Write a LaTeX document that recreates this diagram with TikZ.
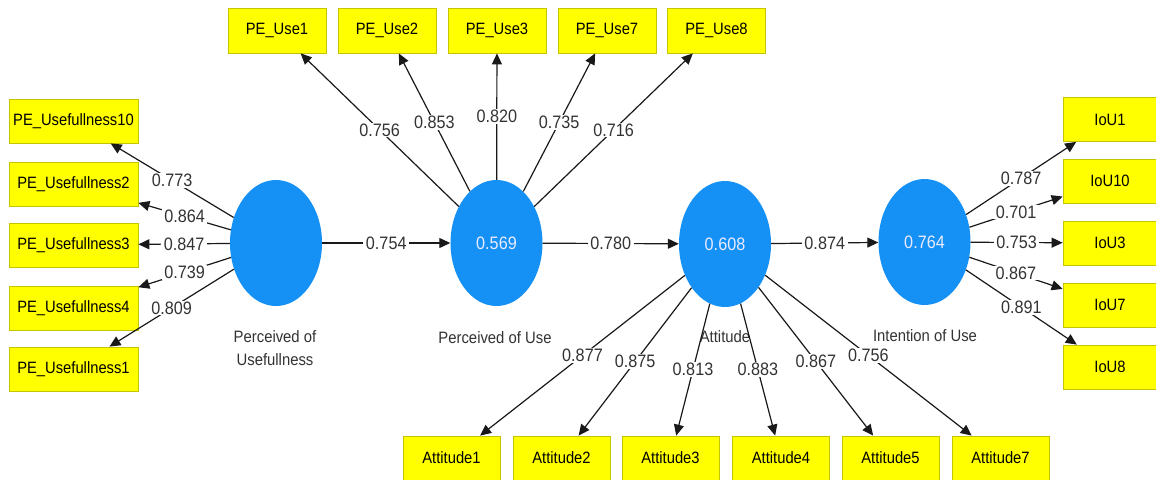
\documentclass[tikz,border=0pt]{standalone}
\usepackage{fontspec}
\setmainfont[FakeStretch=0.9]{Liberation Sans}
\usetikzlibrary{shapes.geometric,arrows.meta}
\definecolor{lvblue}{HTML}{1591F5}
\definecolor{mvyellow}{HTML}{FFFF00}
\definecolor{mvborder}{HTML}{C4C400}
\definecolor{txtgray}{HTML}{333333}
\begin{document}
\begin{tikzpicture}[x=1pt,y=-1pt,
 latent/.style={ellipse, fill=lvblue, draw=none, minimum width=92pt, minimum height=126pt, inner sep=0pt, text=white!92!blue, font=\fontsize{18}{20}\selectfont},
 ind/.style={rectangle, fill=mvyellow, draw=mvborder, line width=0.8pt, inner sep=0pt, minimum height=44pt, font=\fontsize{16.4}{18}\selectfont},
 indl/.style={ind, minimum width=129pt},
 indt/.style={ind, minimum width=98pt, minimum height=45pt},
 indb/.style={ind, minimum width=97pt, minimum height=44pt},
 indr/.style={ind, minimum width=94pt},
 load/.style={-{Triangle[length=11pt,width=10pt]}, line width=1.2pt, draw=black!90},
 coef/.style={fill=white, inner xsep=2.5pt, inner ysep=1pt, text=txtgray, font=\fontsize{18}{20}\selectfont},
 lvname/.style={text=txtgray, font=\fontsize{16.5}{23}\selectfont, align=center}
]
\useasboundingbox[fill=white] (0,0) rectangle (1156,479);

% latent variables
\node[latent] (pus) at (276,243) {};
\node[latent] (pe) at (496.5,243) {0.569};
\node[latent] (att) at (725,244) {0.608};
\node[latent] (iou) at (924.5,242) {0.764};

\node[lvname] (lpus) at (275,348) {Perceived of\\Usefullness};
\node[lvname] (lpe) at (495,338) {Perceived of Use};
\node[lvname] (latt) at (725,337) {Attitude};
\node[lvname] (liou) at (925,336) {Intention of Use};

% left indicators
\node[indl] (u10) at (73.5,121) {PE\_Usefullness10};
\node[indl] (u2) at (73.5,184) {PE\_Usefullness2};
\node[indl] (u3) at (73.5,245) {PE\_Usefullness3};
\node[indl] (u4) at (73.5,308) {PE\_Usefullness4};
\node[indl] (u1) at (73.5,369) {PE\_Usefullness1};

% top indicators
\node[indt] (e1) at (277,30.5) {PE\_Use1};
\node[indt] (e2) at (387,30.5) {PE\_Use2};
\node[indt] (e3) at (497,30.5) {PE\_Use3};
\node[indt] (e7) at (607,30.5) {PE\_Use7};
\node[indt] (e8) at (716.5,30.5) {PE\_Use8};

% bottom indicators
\node[indb] (a1) at (451.5,458) {Attitude1};
\node[indb] (a2) at (561.5,458) {Attitude2};
\node[indb] (a3) at (670.5,458) {Attitude3};
\node[indb] (a4) at (781,458) {Attitude4};
\node[indb] (a5) at (890.5,458) {Attitude5};
\node[indb] (a7) at (1000.5,458) {Attitude7};

% right indicators
\node[indr] (i1) at (1110,119.5) {IoU1};
\node[indr] (i10) at (1110,181) {IoU10};
\node[indr] (i3) at (1110,243) {IoU3};
\node[indr] (i7) at (1110,305) {IoU7};
\node[indr] (i8) at (1110,367) {IoU8};

% structural paths
\draw[load] (pus) -- node[coef] {0.754} (pe);
\draw[load] (pe) -- node[coef] {0.780} (att);
\draw[load] (att) -- node[coef] {0.874} (iou);

% loadings
\draw[load] (pus) -- node[coef] {0.773} (u10);
\draw[load] (pus) -- node[coef] {0.864} (u2);
\draw[load] (pus) -- node[coef] {0.847} (u3);
\draw[load] (pus) -- node[coef] {0.739} (u4);
\draw[load] (pus) -- node[coef] {0.809} (u1);

\draw[load] (pe) -- node[coef] {0.756} (e1);
\draw[load] (pe) -- node[coef] {0.853} (e2);
\draw[load] (pe) -- node[coef] {0.820} (e3);
\draw[load] (pe) -- node[coef] {0.735} (e7);
\draw[load] (pe) -- node[coef] {0.716} (e8);

\draw[load] (att) -- node[coef] {0.877} (a1);
\draw[load] (att) -- node[coef] {0.875} (a2);
\draw[load] (att) -- node[coef] {0.813} (a3);
\draw[load] (att) -- node[coef] {0.883} (a4);
\draw[load] (att) -- node[coef] {0.867} (a5);
\draw[load] (att) -- node[coef] {0.756} (a7);

\draw[load] (iou) -- node[coef] {0.787} (i1);
\draw[load] (iou) -- node[coef] {0.701} (i10);
\draw[load] (iou) -- node[coef] {0.753} (i3);
\draw[load] (iou) -- node[coef] {0.867} (i7);
\draw[load] (iou) -- node[coef] {0.891} (i8);
\end{tikzpicture}
\end{document}
